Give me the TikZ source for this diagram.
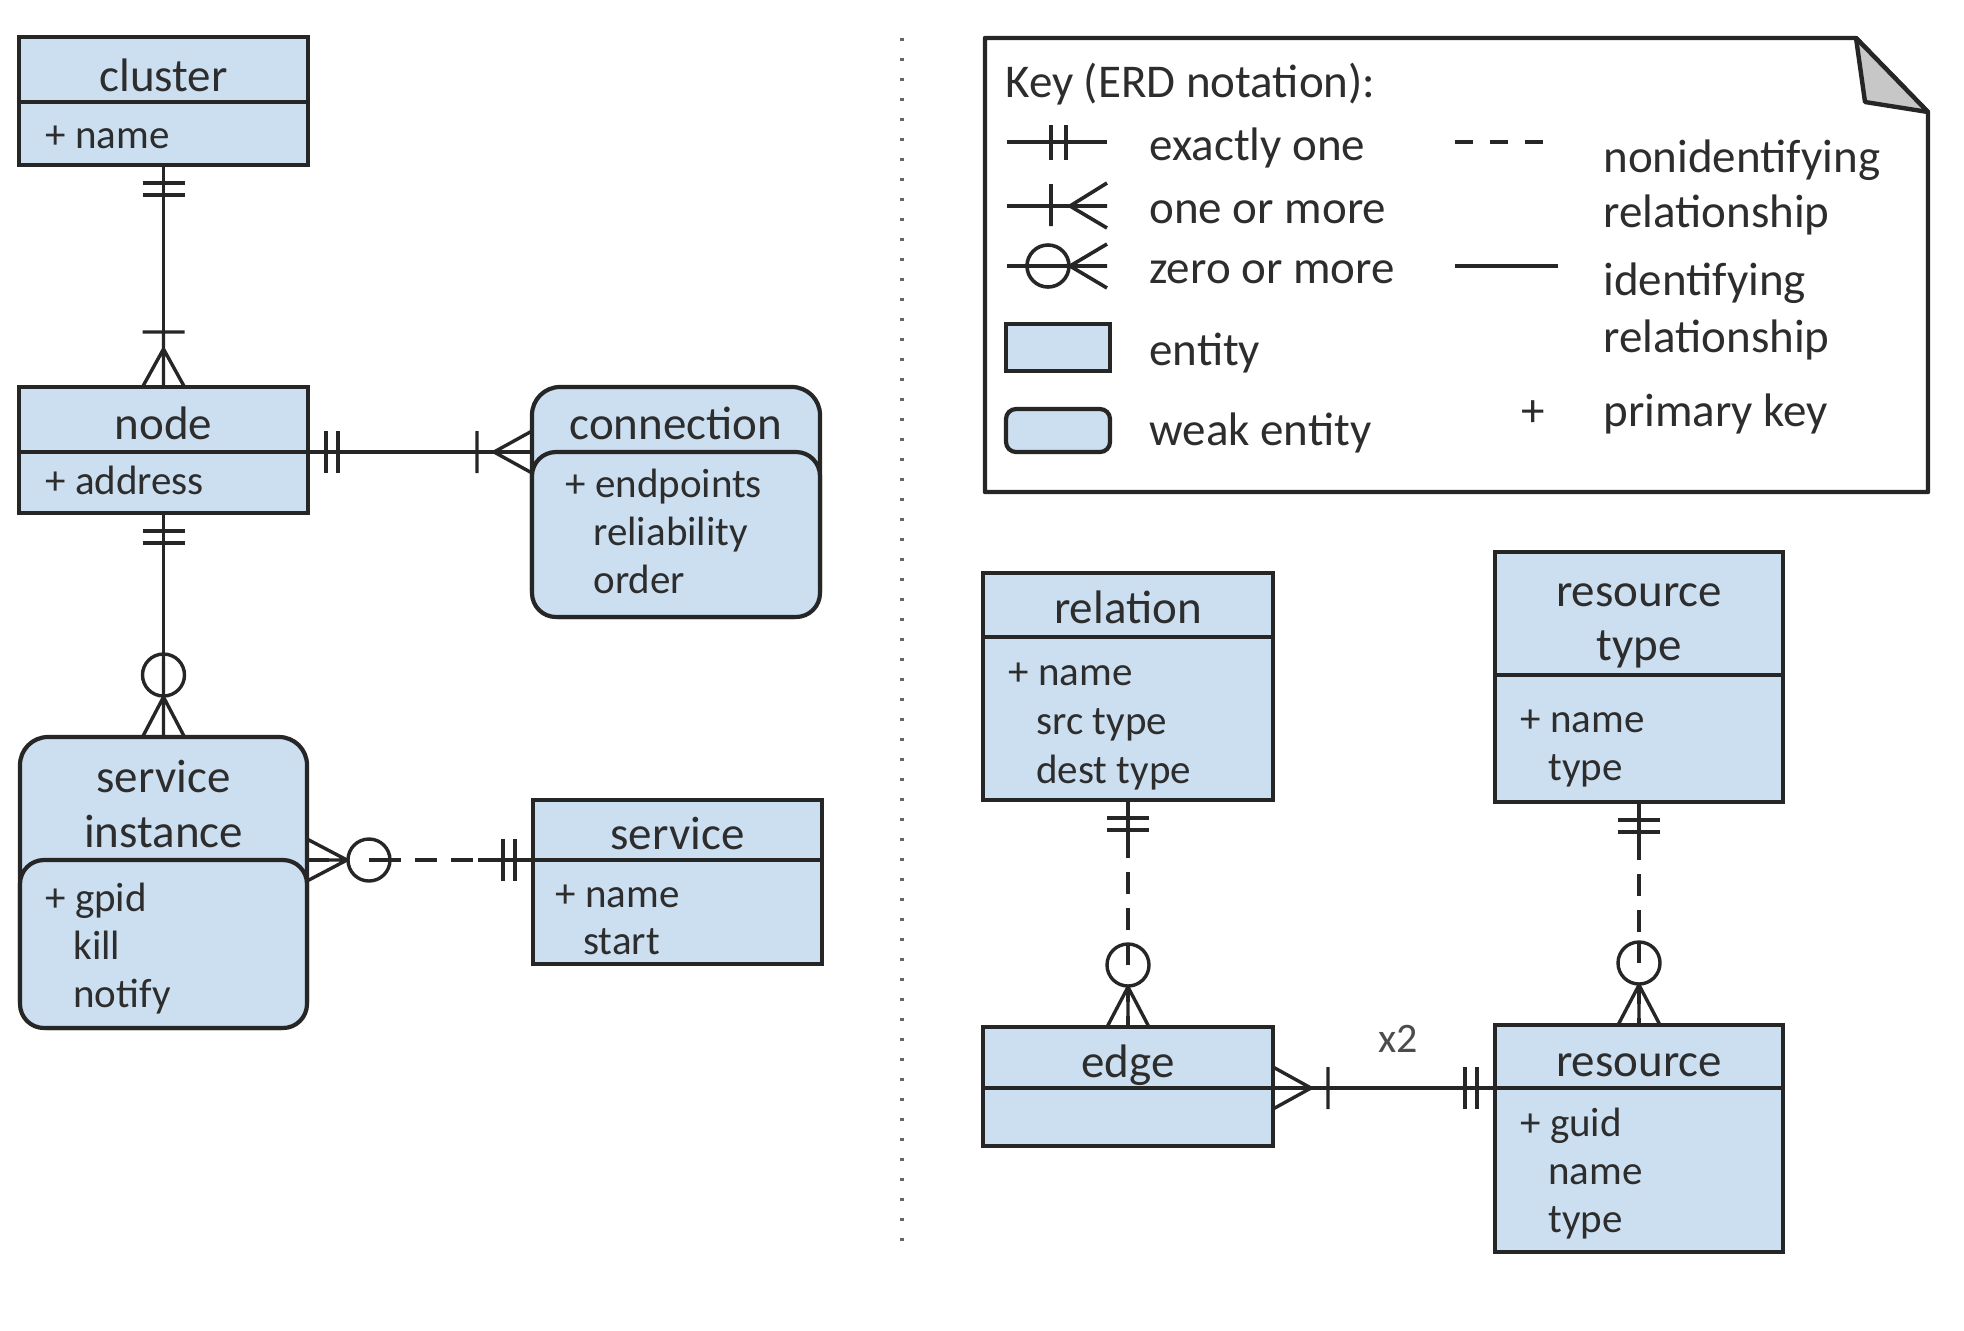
\documentclass[tikz,border=0pt]{standalone}
\usepackage{fontspec}
\setmainfont{Carlito}
\definecolor{efill}{RGB}{204,223,240}
\definecolor{eline}{RGB}{38,38,38}
\definecolor{etext}{RGB}{45,45,45}
\tikzset{
 ent/.style={draw=eline, fill=efill, line width=2.1pt, inner sep=0pt, outer sep=0pt, anchor=north west},
 hdr/.style={font=\fontsize{23.5}{27.5}\selectfont, text=etext, inner sep=0pt, anchor=base},
 att/.style={font=\fontsize{20.5}{24}\selectfont, text=etext, inner sep=0pt, anchor=base west},
 keyt/.style={font=\fontsize{23.5}{28}\selectfont, text=etext, inner sep=0pt, anchor=base west},
 conn/.style={draw=eline, line width=1.7pt},
 dconn/.style={draw=eline, line width=1.7pt, dash pattern=on 11pt off 7pt},
 mk/.style={draw=eline, line width=1.7pt},
 exone/.pic={\draw[mk] (0,0)--(55,0) (18,-21)--(18,21) (30,-21)--(30,21);},
 crowone/.pic={\draw[mk] (0,0)--(55,0) (0,-21)--(38,0)--(0,21) (55,-21)--(55,21);},
 crowzero/.pic={\draw[mk] (0,0)--(83,0) (0,-21)--(40,0)--(0,21); \draw[mk] (62,0) circle[radius=21];},
 crowzerod/.pic={\draw[mk] (0,0)--(40,0) (0,-21)--(40,0)--(0,21); \draw[mk, fill=white] (62,0) circle[radius=21]; \draw[mk] (62,0)--(83,0);},
}
\begin{document}
\begin{tikzpicture}[x=0.5pt,y=0.5pt]
\useasboundingbox (0,0) rectangle (1964,-1330);

% divider
\draw[line width=1.7pt, black!60, dash pattern=on 1.6pt off 8.4pt] (902,-38) -- (902,-1252);

% ---------- entities ----------
% cluster
\node[ent, minimum width=144.5pt, minimum height=32.5pt] (clusterH) at (19,-37) {};
\node[ent, minimum width=144.5pt, minimum height=31.5pt] (clusterB) at (19,-102) {};
\node[hdr] (clusterT) at (163.5,-91) {cluster};
\node[att] (clusterA1) at (45,-148) {+ name};

% node
\node[ent, minimum width=144.5pt, minimum height=32.5pt] (nodeH) at (19,-387) {};
\node[ent, minimum width=144.5pt, minimum height=30.5pt] (nodeB) at (19,-452) {};
\node[hdr] (nodeT) at (163.5,-439) {node};
\node[att] (nodeA1) at (45,-494) {+ address};

% connection (weak)
\node[ent, rounded corners=14pt, minimum width=144pt, minimum height=115pt] (connH) at (532,-387) {};
\node[ent, rounded corners=12pt, minimum width=144pt, minimum height=82.5pt] (connB) at (532,-452) {};
\node[hdr] (connT) at (676,-439) {connection};
\node[att] (connA1) at (565,-497) {+ endpoints};
\node[att] (connA2) at (593,-545) {reliability};
\node[att] (connA3) at (593,-593) {order};

% service instance (weak)
\node[ent, rounded corners=14pt, minimum width=143.5pt, minimum height=145.5pt] (siH) at (20,-737) {};
\node[ent, rounded corners=12pt, minimum width=143.5pt, minimum height=84pt] (siB) at (20,-860) {};
\node[hdr] (siT1) at (163.5,-792) {service};
\node[hdr] (siT2) at (163.5,-847) {instance};
\node[att] (siA1) at (45,-911) {+ gpid};
\node[att] (siA2) at (73,-959) {kill};
\node[att] (siA3) at (73,-1007) {notify};

% service
\node[ent, minimum width=144.5pt, minimum height=30pt] (serH) at (533,-800) {};
\node[ent, minimum width=144.5pt, minimum height=52pt] (serB) at (533,-860) {};
\node[hdr] (serT) at (677.5,-849) {service};
\node[att] (serA1) at (555,-907) {+ name};
\node[att] (serA2) at (583,-954) {start};

% relation
\node[ent, minimum width=145pt, minimum height=32pt] (relH) at (983,-573) {};
\node[ent, minimum width=145pt, minimum height=81.5pt] (relB) at (983,-637) {};
\node[hdr] (relT) at (1128,-623) {relation};
\node[att] (relA1) at (1008,-685) {+ name};
\node[att] (relA2) at (1036,-734) {src type};
\node[att] (relA3) at (1036,-783) {dest type};

% resource type
\node[ent, minimum width=144pt, minimum height=61.5pt] (rtH) at (1495,-552) {};
\node[ent, minimum width=144pt, minimum height=63.5pt] (rtB) at (1495,-675) {};
\node[hdr] (rtT1) at (1639,-606) {resource};
\node[hdr] (rtT2) at (1639,-660) {type};
\node[att] (rtA1) at (1520,-732) {+ name};
\node[att] (rtA2) at (1548,-780) {type};

% edge
\node[ent, minimum width=145pt, minimum height=30.5pt] (edgeH) at (983,-1027) {};
\node[ent, minimum width=145pt, minimum height=29pt] (edgeB) at (983,-1088) {};
\node[hdr] (edgeT) at (1128,-1077) {edge};

% resource
\node[ent, minimum width=144pt, minimum height=31.5pt] (resH) at (1495,-1025) {};
\node[ent, minimum width=144pt, minimum height=82pt] (resB) at (1495,-1088) {};
\node[hdr] (resT) at (1639,-1076) {resource};
\node[att] (resA1) at (1520,-1136) {+ guid};
\node[att] (resA2) at (1548,-1184) {name};
\node[att] (resA3) at (1548,-1232) {type};

% ---------- connectors ----------
\draw[conn] (clusterB.south) -- (nodeH.north);
\pic[rotate=-90] at (clusterB.south) {exone};
\pic[rotate=90] at (nodeH.north) {crowone};

\draw[conn] (nodeB.north east) -- (connB.north west);
\pic at (nodeB.north east) {exone};
\pic[rotate=180] at (connB.north west) {crowone};

\draw[conn] (nodeB.south) -- (siH.north);
\pic[rotate=-90] at (nodeB.south) {exone};
\pic[rotate=90] at (siH.north) {crowzero};

\draw[dconn] (siB.north east) -- (serB.north west);
\pic at (siB.north east) {crowzerod};
\pic[rotate=180] at (serB.north west) {exone};

\draw[dconn] (relB.south) -- (edgeH.north);
\pic[rotate=-90] at (relB.south) {exone};
\pic[rotate=90] at (edgeH.north) {crowzerod};

\draw[dconn] (rtB.south) -- (resH.north);
\pic[rotate=-90] at (rtB.south) {exone};
\pic[rotate=90] at (resH.north) {crowzerod};

\draw[conn] (edgeB.north east) -- (resB.north west);
\pic at (edgeB.north east) {crowone};
\pic[rotate=180] at (resB.north west) {exone};
\node[font=\fontsize{21}{24}\selectfont, text=etext!85, inner sep=0pt, anchor=base] (xtwo) at (1398,-1052) {x2};

% ---------- key ----------
\draw[draw=eline, line width=2.2pt, fill=white, line join=round] (985,-38) -- (1856,-38) -- (1928,-112) -- (1928,-492) -- (985,-492) -- cycle;
\draw[draw=eline, line width=2.2pt, fill=black!22, line join=round] (1856,-38) -- (1865,-102) -- (1928,-112) -- cycle;

\node[keyt] (keyTitle) at (1005,-97) {Key (ERD notation):};
\draw[mk, line width=1.8pt] (1007,-142) -- (1107,-142) (1051,-125) -- (1051,-160) (1066,-125) -- (1066,-160);
\node[keyt] (kExact) at (1149,-160) {exactly one};
\draw[mk, line width=1.8pt] (1007,-206) -- (1107,-206) (1051,-184) -- (1051,-226) (1107,-183) -- (1070,-206) -- (1107,-228);
\node[keyt] (kOneMore) at (1149,-223) {one or more};
\draw[mk, line width=1.8pt] (1007,-266) -- (1107,-266) (1107,-244) -- (1070,-266) -- (1107,-288);
\draw[mk, line width=1.8pt] (1048,-266) circle[radius=21];
\node[keyt] (kZeroMore) at (1149,-283) {zero or more};
\draw[draw=eline, fill=efill, line width=2.1pt] (1006,-324) rectangle (1110,-371);
\node[keyt] (kEntity) at (1149,-365) {entity};
\draw[draw=eline, fill=efill, line width=2.1pt, rounded corners=5pt] (1006,-409) rectangle (1110,-452);
\node[keyt] (kWeak) at (1149,-445) {weak entity};

\draw[mk, line width=2pt, dash pattern=on 9pt off 8.5pt] (1455,-142) -- (1549,-142);
\node[keyt] (kNon1) at (1603,-172) {nonidentifying};
\node[keyt] (kNon2) at (1603,-227) {relationship};
\draw[mk, line width=2pt] (1455,-266) -- (1558,-266);
\node[keyt] (kId1) at (1603,-295) {identifying};
\node[keyt] (kId2) at (1603,-352) {relationship};
\node[keyt] (kPlus) at (1521,-426) {+};
\node[keyt] (kPK) at (1603,-426) {primary key};
\end{tikzpicture}
\end{document}
